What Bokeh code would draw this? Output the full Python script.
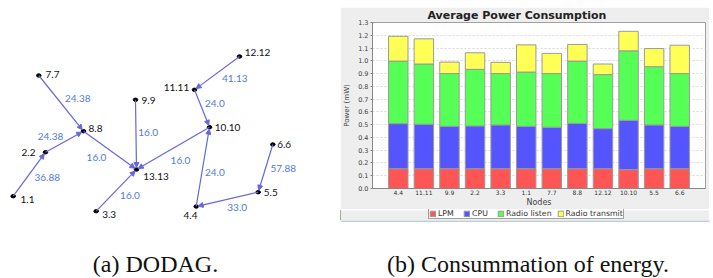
import math
from bokeh.plotting import figure
from bokeh.layouts import row, column
from bokeh.models import (Range1d, ColumnDataSource, Arrow, NormalHead, Label, Legend,
                          LegendItem, FactorRange, SingleIntervalTicker, PrintfTickFormatter, Spacer)
from bokeh.embed import file_html
from bokeh.resources import INLINE
from bokeh.core.properties import value

# ---------------- DODAG data (positions in picture pixels) ----------------
node_names = ["1.1", "2.2", "3.3", "4.4", "5.5", "6.6", "7.7", "8.8", "9.9", "10.10", "11.11", "12.12", "13.13"]
node_x = [12.7, 45, 95.7, 195.7, 257.7, 272.3, 38.3, 83, 135, 209, 194, 239, 136]
node_y = [195.7, 151.7, 210.7, 206, 191.7, 144, 75, 130.7, 99.3, 126.7, 89.3, 56, 169]
node_label_x = [20, 35, 101.7, 190, 263.3, 276.7, 45, 88, 141, 214.3, 188.7, 244.3, 142.7]
node_label_y = [199.3, 151.7, 214, 215, 191.7, 144, 74, 128.3, 100, 126.7, 86.7, 51.7, 176]
node_label_align = ["left", "right", "left", "center", "left", "left", "left", "left", "left",
                    "left", "right", "left", "left"]

edge_child = ["1.1", "2.2", "7.7", "8.8", "9.9", "3.3", "10.10", "11.11", "12.12", "4.4", "5.5", "6.6"]
edge_parent = ["2.2", "8.8", "8.8", "13.13", "13.13", "13.13", "13.13", "10.10", "11.11", "10.10", "4.4", "5.5"]
edge_etx = ["36.88", "24.38", "24.38", "16.0", "16.0", "16.0", "16.0", "24.0", "41.13", "24.0", "33.0", "57.88"]
etx_x = [46.7, 50, 77.3, 96, 147.7, 129.5, 180, 214.3, 234.3, 214.3, 236.7, 282.7]
etx_y = [176.7, 136, 97.7, 157.3, 131.7, 195, 160, 103.3, 78.3, 171.7, 206.7, 168.3]

# ---------------- Energy data ----------------
nodes = ["4.4", "11.11", "9.9", "2.2", "3.3", "1.1", "7.7", "8.8", "12.12", "10.10", "5.5", "6.6"]
lpm = [0.155, 0.155, 0.155, 0.155, 0.155, 0.155, 0.155, 0.155, 0.155, 0.148, 0.155, 0.155]
cpu = [0.353, 0.348, 0.332, 0.335, 0.343, 0.332, 0.325, 0.355, 0.314, 0.386, 0.343, 0.332]
radio_listen = [0.490, 0.472, 0.413, 0.443, 0.402, 0.425, 0.420, 0.488, 0.423, 0.544, 0.456, 0.413]
radio_transmit = [0.194, 0.197, 0.090, 0.130, 0.088, 0.213, 0.158, 0.130, 0.083, 0.153, 0.142, 0.222]
series_names = ["LPM", "CPU", "Radio listen", "Radio transmit"]
series_colors = ["#ff5555", "#5555ff", "#55ff55", "#ffff55"]

PANEL = "#eeeeee"
CAPTION_FONT = "Liberation Serif"
CAPTION_SIZE = "24px"


def bare(fig):
    fig.axis.visible = False
    fig.grid.visible = False
    fig.outline_line_color = None
    return fig


# ---------------- Panel (a): DODAG ----------------
EDGE = "#6666dd"
ETX = "#4f7bd9"
fa = bare(figure(width=340, height=278, x_range=Range1d(0, 340), y_range=Range1d(278, 0),
                 output_backend="svg", toolbar_location=None, frame_align=False,
                 min_border_left=0, min_border_right=0, min_border_top=0, min_border_bottom=0))

pos = {n: (x, y) for n, x, y in zip(node_names, node_x, node_y)}
x0, y0, x1, y1 = [], [], [], []
for c, par in zip(edge_child, edge_parent):
    cx, cy = pos[c]
    px, py = pos[par]
    d = math.hypot(px - cx, py - cy)
    ux, uy = (px - cx) / d, (py - cy) / d
    x0.append(cx); y0.append(cy)
    x1.append(px - ux * 2.0); y1.append(py - uy * 2.0)
esrc = ColumnDataSource(dict(x0=x0, y0=y0, x1=x1, y1=y1))
fa.add_layout(Arrow(end=NormalHead(size=5, fill_color=EDGE, line_color=EDGE, line_width=1),
                    x_start="x0", y_start="y0", x_end="x1", y_end="y1",
                    line_color=EDGE, line_width=1.2, source=esrc))

fa.ellipse(x=node_x, y=node_y, width=4.6, height=3.4, color="black")

nsrc = ColumnDataSource(dict(x=node_label_x, y=node_label_y, t=node_names, a=node_label_align))
fa.text(x="x", y="y", text="t", text_align="a", text_baseline="middle", source=nsrc,
        text_font=value("Lato"), text_font_size="10px", text_color="#111111")
fa.text(x=etx_x, y=etx_y, text=edge_etx, text_align="center", text_baseline="middle",
        text_font=value("Lato"), text_font_size="10px", text_color=ETX)

fa.add_layout(Label(x=155, y=263, text="(a) DODAG.", text_align="center", text_baseline="middle",
                    text_font=CAPTION_FONT, text_font_size=CAPTION_SIZE, text_color="#111111"))

# ---------------- Panel (b): stacked bars ----------------
src = ColumnDataSource(dict(nodes=nodes, LPM=lpm, CPU=cpu, listen=radio_listen, transmit=radio_transmit))
fb = figure(width=369, height=202, x_range=FactorRange(*nodes, range_padding=0.0847),
            y_range=Range1d(0, 1.30), output_backend="svg", toolbar_location=None, frame_align=False,
            min_border_left=32, min_border_right=4, min_border_top=14, min_border_bottom=21,
            border_fill_color=PANEL, background_fill_color="white",
            title="Average Power Consumption")
rs = fb.vbar_stack(["LPM", "CPU", "listen", "transmit"], x="nodes", width=0.76, source=src,
                   fill_color=series_colors, line_color="#9a9a9a", line_width=1)

fb.title.align = "left"
fb.title.offset = 55
fb.title.standoff = 0
fb.title.vertical_align = "middle"
fb.title.text_font = "DejaVu Sans"
fb.title.text_font_style = "bold"
fb.title.text_font_size = "11px"
fb.title.text_color = "#222222"

fb.outline_line_color = "#a0a0a0"
fb.xgrid.visible = False
fb.ygrid.grid_line_color = "#d8d8d8"
fb.ygrid.grid_line_dash = "2 2"

fb.yaxis.ticker = SingleIntervalTicker(interval=0.1, num_minor_ticks=0)
fb.yaxis.formatter = PrintfTickFormatter(format="%.1f")
fb.yaxis.major_label_text_font_size = "6.5px"
fb.yaxis.major_label_text_font = "DejaVu Sans"
fb.yaxis.major_label_text_color = "#444444"
fb.yaxis.major_tick_out = 2
fb.yaxis.major_tick_in = 0
fb.yaxis.minor_tick_out = 0
fb.yaxis.minor_tick_in = 0
fb.yaxis.major_tick_line_color = "#888888"
fb.yaxis.major_label_standoff = 2
fb.yaxis.axis_line_color = "#888888"
fb.yaxis.axis_label = "Power (mW)"
fb.yaxis.axis_label_text_font_size = "7px"
fb.yaxis.axis_label_text_font = "DejaVu Sans"
fb.yaxis.axis_label_text_font_style = "normal"
fb.yaxis.axis_label_text_color = "#444444"
fb.yaxis.axis_label_standoff = 4

fb.xaxis.major_tick_line_color = None
fb.xaxis.minor_tick_line_color = None
fb.xaxis.major_tick_out = 0
fb.xaxis.major_tick_in = 0
fb.xaxis.minor_tick_out = 0
fb.xaxis.minor_tick_in = 0
fb.xaxis.axis_line_color = "#888888"
fb.xaxis.major_label_text_font_size = "6px"
fb.xaxis.major_label_text_font = "DejaVu Sans"
fb.xaxis.major_label_text_color = "#333333"
fb.xaxis.major_label_standoff = 1
fb.xaxis.axis_label = "Nodes"
fb.xaxis.axis_label_text_font_size = "8px"
fb.xaxis.axis_label_text_font = "DejaVu Sans"
fb.xaxis.axis_label_text_font_style = "normal"
fb.xaxis.axis_label_text_color = "#444444"
fb.xaxis.axis_label_standoff = 0

# ---------------- legend strip (part of the gray panel) ----------------
fl = bare(figure(width=369, height=11, x_range=Range1d(0, 1), y_range=Range1d(0, 1),
                 output_backend="svg", toolbar_location=None, frame_align=False,
                 min_border_left=0, min_border_right=0, min_border_top=0, min_border_bottom=0,
                 border_fill_color=PANEL, background_fill_color=PANEL))
# legend proxies (outside the visible range; only their swatches are shown)
swatches = [fl.vbar(x=[-5], top=[1], width=1, fill_color=c, line_color="#9a9a9a") for c in series_colors]
legend = Legend(items=[LegendItem(label=n, renderers=[r]) for n, r in zip(series_names, swatches)],
                location=(88, 1), orientation="horizontal",
                label_text_font="DejaVu Sans", label_text_font_size="7.8px", label_text_color="#333333",
                glyph_width=7, glyph_height=7, label_height=7, label_standoff=2, spacing=5,
                padding=0, margin=0, border_line_color="#444444", border_line_width=1,
                background_fill_color="white", background_fill_alpha=1)
fl.add_layout(legend)

# ---------------- caption under (b) ----------------
fc = bare(figure(width=373, height=58, x_range=Range1d(340, 713), y_range=Range1d(278, 220),
                 output_backend="svg", toolbar_location=None, frame_align=False,
                 min_border_left=0, min_border_right=0, min_border_top=0, min_border_bottom=0))
fc.segment(x0=[340], y0=[220.6], x1=[709], y1=[220.6], line_color="#a9bccf", line_width=1.5)
fc.add_layout(Label(x=527.5, y=263, text="(b) Consummation of energy.", text_align="center",
                    text_baseline="middle", text_font=CAPTION_FONT, text_font_size=CAPTION_SIZE,
                    text_color="#111111"))

layout = row(fa, column(Spacer(width=369, height=7), fb, fl, fc))
open("out.html", "w").write(file_html(layout, INLINE))
